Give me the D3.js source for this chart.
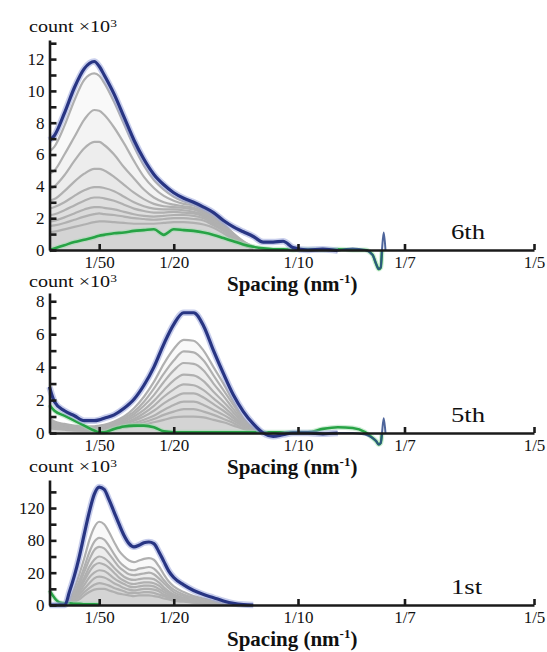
<!DOCTYPE html>
<html><head><meta charset="utf-8">
<script src="https://cdn.jsdelivr.net/npm/d3@7"></script>
<style>html,body{margin:0;padding:0;background:#fff;} svg{display:block} svg text{font-family:"Liberation Serif","Times New Roman",Tinos,"DejaVu Serif",serif;}</style>
</head><body><svg id="c" width="547" height="652"></svg>
<script>
// ---------------- DATA ----------------
const xTickValues = [1/50, 1/20, 1/10, 1/7, 1/5];
const xTickLabels = ["1/50", "1/20", "1/10", "1/7", "1/5"];

// sample spacings (nm^-1) shared by the 6th and 5th panels
const xSamples = [0, 0.002, 0.006, 0.010, 0.014, 0.018, 0.020, 0.022, 0.026, 0.030, 0.034, 0.038, 0.042, 0.046,
  0.050, 0.054, 0.058, 0.062, 0.066, 0.070, 0.074, 0.078, 0.082, 0.086, 0.090, 0.094, 0.098,
  0.104, 0.110, 0.116, 0.122, 0.127, 0.130, 0.1315, 0.1325, 0.1333, 0.1338, 0.1345, 0.1352];

// 6th iteration (count x10^3)
const blue6 = [6.9, 7.2, 8.6, 10.2, 11.4, 11.85, 11.55, 11.0, 9.8, 8.35, 6.9, 5.7, 4.75, 4.1, 3.6, 3.25, 3.0, 2.7,
  2.35, 1.85, 1.45, 1.15, 0.85, 0.5, 0.5, 0.55, 0.15,
  0.0, 0.05, -0.05, 0.1, 0.0, -0.3, -0.9, -1.2, -1.1, 0.0, 1.1, 0.0];
const green6 = [0.0, 0.1, 0.3, 0.5, 0.65, 0.8, 0.9, 0.95, 1.05, 1.1, 1.2, 1.25, 1.3, 0.95, 1.3, 1.25, 1.2, 1.1,
  0.95, 0.75, 0.55, 0.35, 0.2, 0.1, 0.05, 0.05, 0.0,
  0.05, 0.0, 0.05, 0.0, 0.0, -0.3, -0.9, -1.2, -1.1, 0.0];
const grey6a = [6.2, 6.5, 7.8, 9.4, 10.7, 11.1, 10.95, 10.5, 9.3, 7.9, 6.5, 5.3, 4.4, 3.8, 3.35, 3.05, 2.9, 2.6, 2.2, 1.65, 1.05, 0.55, 0.2];
const grey6b = [4.8, 5.0, 6.0, 7.1, 8.2, 8.8, 8.75, 8.5, 7.7, 6.7, 5.6, 4.6, 3.9, 3.4, 3.1, 2.9, 2.8, 2.5, 2.1, 1.55, 1.0, 0.5, 0.2];
const grey6c = [3.8, 4.0, 4.7, 5.6, 6.4, 6.8, 6.8, 6.6, 6.0, 5.2, 4.5, 3.8, 3.3, 3.0, 2.85, 2.75, 2.65, 2.4, 2.0, 1.5, 0.95, 0.5, 0.2];
const grey6d = [3.1, 3.2, 3.7, 4.3, 4.8, 5.1, 5.1, 5.0, 4.6, 4.1, 3.6, 3.2, 2.9, 2.75, 2.7, 2.65, 2.55, 2.3, 1.95, 1.45, 0.9, 0.45, 0.2];
const grey6e = [2.6, 2.7, 3.0, 3.4, 3.75, 3.95, 3.95, 3.9, 3.7, 3.35, 3.0, 2.75, 2.6, 2.55, 2.55, 2.5, 2.4, 2.2, 1.85, 1.4, 0.9, 0.45, 0.2];
const grey6f = [2.2, 2.25, 2.5, 2.8, 3.1, 3.3, 3.3, 3.25, 3.1, 2.85, 2.6, 2.45, 2.35, 2.35, 2.4, 2.35, 2.3, 2.1, 1.75, 1.35, 0.85, 0.4, 0.15];
const grey6g = [1.8, 1.85, 2.05, 2.3, 2.55, 2.7, 2.7, 2.65, 2.55, 2.4, 2.25, 2.15, 2.1, 2.15, 2.2, 2.2, 2.15, 2.0, 1.65, 1.3, 0.8, 0.4, 0.15];
const grey6h = [1.5, 1.55, 1.7, 1.9, 2.1, 2.25, 2.3, 2.25, 2.2, 2.1, 2.0, 1.95, 1.9, 1.95, 2.0, 2.0, 1.95, 1.85, 1.55, 1.2, 0.75, 0.35, 0.1];
const grey6i = [1.1, 1.15, 1.3, 1.45, 1.6, 1.75, 1.8, 1.8, 1.75, 1.7, 1.65, 1.65, 1.65, 1.7, 1.75, 1.75, 1.7, 1.6, 1.4, 1.05, 0.65, 0.3, 0.1];
const yTicks6 = [0, 2, 4, 6, 8, 10, 12];
const yMinor6 = [1, 3, 5, 7, 9, 11, 13];

// 5th iteration (count x10^3)
const blue5 = [2.8, 1.9, 1.35, 1.05, 0.75, 0.75, 0.8, 0.9, 1.1, 1.5, 2.05, 2.9, 4.0, 5.4, 6.6, 7.3, 7.3, 6.5,
  5.0, 3.6, 2.3, 1.3, 0.55, 0.0, -0.2, -0.1, 0.0,
  0.0, -0.05, 0.0, 0.0, -0.1, -0.3, -0.5, -0.7, -0.6, 0.0, 0.9, 0.0];
const green5 = [1.7, 1.35, 1.05, 0.75, 0.45, 0.15, 0.05, 0.05, 0.25, 0.4, 0.45, 0.45, 0.35, 0.1, 0.05, 0.05, 0.05, 0.05,
  0.05, 0.05, 0.05, 0.05, 0.05, 0.05, 0.05, 0.05, 0.05,
  0.05, 0.25, 0.35, 0.3, 0.05, -0.3, -0.5, -0.7, -0.6, 0.0];
const grey5a = [0.9, 0.7, 0.55, 0.45, 0.4, 0.4, 0.45, 0.5, 0.7, 1.0, 1.5, 2.2, 3.1, 4.2, 5.1, 5.65, 5.6, 5.0, 4.0, 3.0, 1.9, 0.9, 0.3, 0.0];
const grey5b = [0.8, 0.6, 0.5, 0.4, 0.35, 0.35, 0.4, 0.45, 0.6, 0.9, 1.3, 1.9, 2.7, 3.6, 4.4, 4.95, 4.9, 4.4, 3.5, 2.6, 1.7, 0.8, 0.25, 0.0];
const grey5c = [0.7, 0.55, 0.45, 0.35, 0.3, 0.3, 0.35, 0.4, 0.55, 0.8, 1.15, 1.65, 2.3, 3.1, 3.8, 4.25, 4.2, 3.8, 3.0, 2.25, 1.45, 0.7, 0.2, 0.0];
const grey5d = [0.6, 0.5, 0.4, 0.3, 0.25, 0.25, 0.3, 0.35, 0.5, 0.7, 1.0, 1.4, 1.95, 2.6, 3.2, 3.55, 3.5, 3.15, 2.5, 1.9, 1.25, 0.6, 0.2, 0.0];
const grey5e = [0.5, 0.45, 0.35, 0.3, 0.25, 0.25, 0.25, 0.3, 0.45, 0.6, 0.85, 1.2, 1.65, 2.2, 2.65, 2.95, 2.9, 2.6, 2.1, 1.6, 1.05, 0.5, 0.15, 0.0];
const grey5f = [0.45, 0.4, 0.3, 0.25, 0.2, 0.2, 0.2, 0.25, 0.4, 0.55, 0.75, 1.0, 1.35, 1.8, 2.15, 2.4, 2.4, 2.15, 1.75, 1.35, 0.9, 0.45, 0.15, 0.0];
const grey5g = [0.4, 0.35, 0.3, 0.2, 0.2, 0.2, 0.2, 0.25, 0.35, 0.45, 0.6, 0.8, 1.05, 1.4, 1.7, 1.9, 1.9, 1.7, 1.4, 1.1, 0.75, 0.4, 0.1, 0.0];
const grey5h = [0.35, 0.3, 0.25, 0.2, 0.15, 0.15, 0.15, 0.2, 0.3, 0.4, 0.5, 0.65, 0.85, 1.1, 1.3, 1.45, 1.45, 1.3, 1.1, 0.85, 0.6, 0.3, 0.1, 0.0];
const grey5i = [0.3, 0.25, 0.2, 0.15, 0.15, 0.15, 0.15, 0.2, 0.25, 0.35, 0.4, 0.5, 0.65, 0.8, 0.95, 1.0, 1.0, 0.95, 0.8, 0.65, 0.45, 0.25, 0.1, 0.0];
const yTicks5 = [0, 2, 4, 6, 8];
const yMinor5 = [1, 3, 5, 7];

// 1st iteration (count x10^3)
const x1st = [0, 0.004, 0.0062, 0.008, 0.010, 0.012, 0.014, 0.016, 0.018, 0.020, 0.022, 0.024, 0.026, 0.028, 0.030,
  0.032, 0.034, 0.036, 0.038, 0.040, 0.042, 0.044, 0.046, 0.048, 0.050, 0.054, 0.058, 0.062, 0.066, 0.070, 0.074, 0.078, 0.082];
const blue1 = [0, 0, 0, 16, 36, 60, 88, 115, 137, 146, 143, 130, 115, 100, 86, 76, 72, 74, 77, 78, 76, 66, 54, 42, 34,
  25, 18, 13, 9, 5, 2, 0.5, 0];
const green1 = [18, 3, 2, 2, 1.5, 1.5, 1, 1, 1, 0.5];
const grey1a = [0, 0, 0, 6, 20, 38, 58, 80, 96, 103, 100, 90, 78, 67, 60, 55, 53, 55, 57, 58, 56, 48, 38, 29, 23, 16, 11, 8, 5, 3, 1, 0];
const grey1b = [0, 0, 0, 4, 15, 30, 47, 65, 78, 83, 81, 73, 63, 54, 48, 44, 43, 45, 46, 47, 45, 39, 31, 24, 19, 13, 9, 6, 4, 2, 1, 0];
const grey1c = [0, 0, 0, 3, 13, 26, 41, 56, 68, 72, 70, 63, 55, 47, 42, 38, 37, 38, 39, 40, 38, 33, 27, 21, 16, 11, 8, 5, 3, 2, 1, 0];
const grey1d = [0, 0, 0, 3, 11, 22, 34, 47, 56, 60, 58, 53, 46, 40, 35, 32, 31, 32, 33, 33, 32, 28, 22, 17, 13, 9, 6, 4, 3, 2, 1, 0];
const grey1e = [0, 0, 0, 2, 9, 19, 30, 41, 49, 52, 50, 46, 40, 34, 30, 27, 26, 27, 28, 28, 27, 24, 19, 15, 12, 8, 6, 4, 2, 1, 0.5, 0];
const grey1f = [0, 0, 0, 2, 8, 16, 25, 34, 40, 43, 42, 38, 33, 29, 26, 23, 22, 23, 24, 24, 23, 20, 16, 13, 10, 7, 5, 3, 2, 1, 0.5, 0];
const grey1g = [0, 0, 0, 2, 6, 13, 20, 27, 33, 35, 34, 31, 27, 24, 21, 19, 18, 19, 20, 20, 19, 17, 13, 11, 8, 6, 4, 3, 2, 1, 0, 0];
const grey1h = [0, 0, 0, 1, 5, 10, 16, 21, 25, 27, 26, 24, 21, 19, 17, 15, 15, 15, 16, 16, 15, 13, 11, 9, 7, 5, 3, 2, 1, 1, 0, 0];
const grey1i = [0, 0, 0, 1, 4, 7, 12, 16, 19, 20, 20, 18, 16, 14, 13, 12, 11, 12, 12, 12, 11, 10, 8, 7, 5, 4, 3, 2, 1, 0.5, 0, 0];
const yTicks1 = [0, 40, 80, 120];
const yTickLabels1 = ["0", "20", "80", "120"];
const yMinor1 = [20, 60, 100, 140];

const panelLabels = ["6th", "5th", "1st"];

// ---------------- DRAWING ----------------
const svg = d3.select("#c");
const FONT = "Liberation Serif, Times New Roman, Tinos, DejaVu Serif, serif";
const x = d3.scaleLinear().domain([0, 1/7, 1/5]).range([49.5, 404.5, 534]);

function drawPanel(p) {
  const g = svg.append("g");
  const y = d3.scaleLinear().domain([0, p.yMax]).range([p.y0, p.yTop]);

  const area = xs => d3.area().x((d, i) => x(xs[i])).y0(y(0)).y1(d => y(d)).curve(d3.curveMonotoneX);
  const line = xs => d3.line().x((d, i) => x(xs[i])).y(d => y(d)).curve(d3.curveMonotoneX);

  // grey curves: faint fill + line
  p.greys.forEach(s => {
    g.append("path").attr("d", area(p.xs)(s)).attr("fill", "#b0b0b0").attr("fill-opacity", 0.075);
  });
  p.greys.forEach(s => {
    g.append("path").attr("d", line(p.xs)(s)).attr("fill", "none")
      .attr("stroke", "#b0b0b0").attr("stroke-width", 2.2).attr("stroke-linejoin", "round");
  });
  // green
  g.append("path").attr("d", line(p.xs)(p.green)).attr("fill", "none")
    .attr("stroke", "#9fdcae").attr("stroke-width", 5).attr("stroke-opacity", 0.5);
  g.append("path").attr("d", line(p.xs)(p.green)).attr("fill", "none")
    .attr("stroke", "#27a345").attr("stroke-width", 2.6).attr("stroke-linejoin", "round");
  // blue: main curve with halo, far tail thinner
  const nMain = p.mainCount;
  const blueMain = p.blue.slice(0, nMain);
  const xsTail = p.xs.slice(nMain - 1, p.blue.length);
  const blueTail = p.blue.slice(nMain - 1);
  g.append("path").attr("d", line(p.xs)(blueMain)).attr("fill", "none")
    .attr("stroke", "#9aa6dc").attr("stroke-width", 6.5).attr("stroke-opacity", 0.55).attr("stroke-linejoin", "round");
  g.append("path").attr("d", line(p.xs)(blueMain)).attr("fill", "none")
    .attr("stroke", "#283583").attr("stroke-width", 3.2).attr("stroke-linejoin", "round");
  if (blueTail.length > 1) {
    g.append("path").attr("d", line(xsTail)(blueTail)).attr("fill", "none")
      .attr("stroke", "#2f4a8a").attr("stroke-width", 2).attr("stroke-opacity", 0.85);
  }

  // axes
  const xa = g.append("g").attr("transform", `translate(0,${p.y0})`)
    .call(d3.axisBottom(x).tickValues(xTickValues).tickFormat((d, i) => xTickLabels[i])
      .tickSize(-6).tickSizeOuter(0).tickPadding(5.5));
  const ya = g.append("g").attr("transform", "translate(49.5,0)")
    .call(d3.axisLeft(y).tickValues(p.yTicks).tickFormat((d, i) => p.yLabels[i])
      .tickSize(-7).tickSizeOuter(0).tickPadding(5));
  const ym = g.append("g").attr("transform", "translate(49.5,0)")
    .call(d3.axisLeft(y).tickValues(p.yMinor).tickFormat("").tickSize(-7).tickSizeOuter(0));
  ym.select(".domain").remove();
  [xa, ya, ym].forEach(a => {
    a.attr("font-family", FONT);
    a.selectAll(".domain").attr("stroke", "#1a1a1a").attr("stroke-width", 2.6);
    a.selectAll(".tick line").attr("stroke", "#1a1a1a").attr("stroke-width", 2.6);
    a.selectAll("text").attr("font-family", FONT).attr("font-size", 17).attr("fill", "#111");
  });

  // count label
  const ct = g.append("text").attr("transform", `translate(29,${p.countBase}) scale(1.22,1)`)
    .attr("font-family", FONT).attr("font-size", 16.5).attr("fill", "#111");
  ct.append("tspan").text("count \u00d710");
  ct.append("tspan").attr("dy", -5.5).attr("font-size", 11).text("3");

  // axis title
  const st = g.append("text").attr("x", 227).attr("y", p.y0 + 41)
    .attr("font-family", FONT).attr("font-size", 21).attr("font-weight", "bold").attr("fill", "#111");
  st.append("tspan").text("Spacing (nm");
  st.append("tspan").attr("dy", -8).attr("font-size", 13).text("-1");
  st.append("tspan").attr("dy", 8).text(")");

  // panel label
  g.append("text").attr("transform", `translate(451,${p.y0 - 11}) scale(1.27,1)`)
    .attr("font-family", FONT).attr("font-size", 21).attr("fill", "#111").text(p.label);
}

drawPanel({ xs: xSamples, blue: blue6, green: green6, mainCount: 30,
  greys: [grey6a, grey6b, grey6c, grey6d, grey6e, grey6f, grey6g, grey6h, grey6i],
  yMax: 13.2, y0: 250, yTop: 40, yTicks: yTicks6, yLabels: yTicks6.map(String), yMinor: yMinor6,
  countBase: 32, label: panelLabels[0] });
drawPanel({ xs: xSamples, blue: blue5, green: green5, mainCount: 30,
  greys: [grey5a, grey5b, grey5c, grey5d, grey5e, grey5f, grey5g, grey5h, grey5i],
  yMax: 8.5, y0: 433, yTop: 293, yTicks: yTicks5, yLabels: yTicks5.map(String), yMinor: yMinor5,
  countBase: 287, label: panelLabels[1] });
drawPanel({ xs: x1st, blue: blue1, green: green1, mainCount: 33,
  greys: [grey1a, grey1b, grey1c, grey1d, grey1e, grey1f, grey1g, grey1h, grey1i],
  yMax: 154.7, y0: 605, yTop: 480, yTicks: yTicks1, yLabels: yTickLabels1, yMinor: yMinor1,
  countBase: 472, label: panelLabels[2] });
</script>
</body></html>
